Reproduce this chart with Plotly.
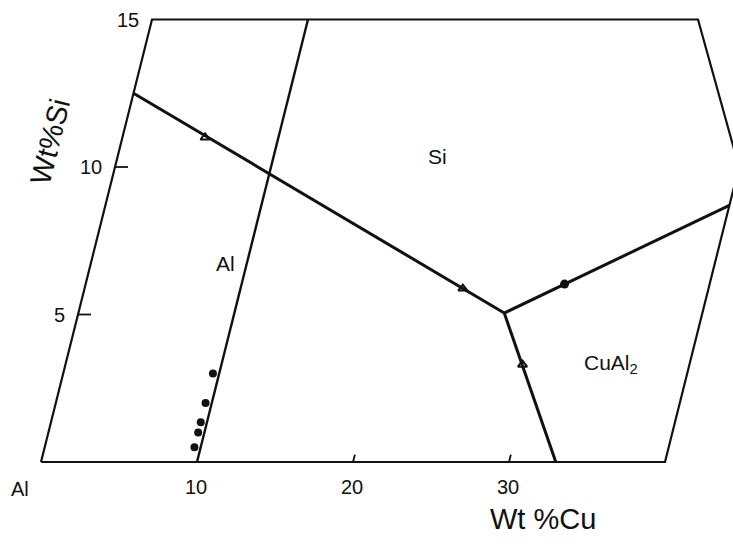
import plotly.graph_objects as go

# Al-Cu-Si liquidus projection (Al corner), composition in wt%.
# The Si axis is drawn tilted, so plot-x = Cu + SKEW * Si.
SKEW = 7.4 / 15.6
XSCALE_PX = 15.6   # px per wt% Cu
YSCALE_PX = 29.5   # px per wt% Si

# Field outline
frame_cu = [0, 40, 40, 35, 0, 0]
frame_si = [0, 0, 10, 15, 15, 0]

# Univariant valleys meeting at the ternary eutectic
al_si_cu = [0, 27.3]
al_si_si = [12.5, 5.05]
si_cual2_cu = [27.3, 40]
si_cual2_si = [5.05, 8.7]
al_cual2_cu = [27.3, 33]
al_cual2_si = [5.05, 0]

# 10 wt% Cu section
section_cu = [10, 10]
section_si = [0, 15]

# Measured points
open_cu = [5.3, 24.25, 29.3]
open_si = [11.0, 5.88, 3.3]
solid_cu = [30.7]
solid_si = [6.03]
alloy_cu = [9.6, 9.6, 9.6, 9.6, 9.6]
alloy_si = [3.0, 2.0, 1.35, 1.0, 0.5]

# Axis ticks
cu_ticks = [10, 20, 30]
si_ticks = [5, 10, 15]


def sx(cu, si):
    return [c + SKEW * s for c, s in zip(cu, si)]


def to_x(px):
    return (px - 41) / XSCALE_PX


def to_y(py):
    return (462 - py) / YSCALE_PX


INK = "#111111"
fig = go.Figure()


def line(cu, si, width):
    fig.add_trace(go.Scatter(x=sx(cu, si), y=si, mode="lines",
                             line=dict(color=INK, width=width),
                             hoverinfo="skip"))


line(frame_cu, frame_si, 2.2)
line(section_cu, section_si, 2.4)
line(al_si_cu, al_si_si, 3)
line(si_cual2_cu, si_cual2_si, 3)
line(al_cual2_cu, al_cual2_si, 3)

# Short tick marks
for s in si_ticks[:2]:
    line([0, 13 / XSCALE_PX], [s, s], 1.8)
for c in cu_ticks[1:]:
    line([c, c], [0, 0.25], 1.8)

fig.add_trace(go.Scatter(x=sx(open_cu, open_si), y=open_si, mode="markers",
                         marker=dict(symbol="triangle-up-open", size=8,
                                     color=INK, line=dict(width=2, color=INK))))
fig.add_trace(go.Scatter(x=sx(solid_cu, solid_si), y=solid_si, mode="markers",
                         marker=dict(symbol="circle", size=9, color=INK)))
fig.add_trace(go.Scatter(x=sx(alloy_cu, alloy_si), y=alloy_si, mode="markers",
                         marker=dict(symbol="circle", size=8, color=INK)))

FONT = "Liberation Sans"
ann = []
for s in si_ticks:
    ann.append(dict(x=SKEW * s, y=s, text=str(s), xanchor="right",
                    xshift=-11, font=dict(size=20)))
for c in cu_ticks:
    ann.append(dict(x=c, y=0, text=str(c), yshift=-25, xshift=-1,
                    font=dict(size=20)))
ann.append(dict(x=0, y=0, text="Al", xshift=-21, yshift=-27, font=dict(size=20)))

ann.append(dict(x=to_x(543), y=to_y(519), text="Wt %Cu", font=dict(size=29)))
ann.append(dict(x=to_x(50), y=to_y(142), text="Wt%Si", textangle=-76,
                font=dict(size=29)))

# Phase field labels
ann.append(dict(x=to_x(437), y=to_y(156), text="Si", font=dict(size=21)))
ann.append(dict(x=to_x(225), y=to_y(263), text="Al", font=dict(size=21)))
ann.append(dict(x=to_x(611), y=to_y(364), text="CuAl<sub>2</sub>",
                font=dict(size=21)))

for a in ann:
    a["xref"] = "x"
    a["yref"] = "y"
    a["showarrow"] = False
    a["font"].update(family=FONT, color=INK)

fig.update_layout(
    width=733, height=545, autosize=False,
    margin=dict(l=0, r=0, t=0, b=0, pad=0),
    paper_bgcolor="white", plot_bgcolor="white",
    showlegend=False, annotations=ann,
    xaxis=dict(range=[to_x(0), to_x(733)], visible=False, fixedrange=True),
    yaxis=dict(range=[to_y(545), to_y(0)], visible=False, fixedrange=True),
)

fig.write_html("out.html")
